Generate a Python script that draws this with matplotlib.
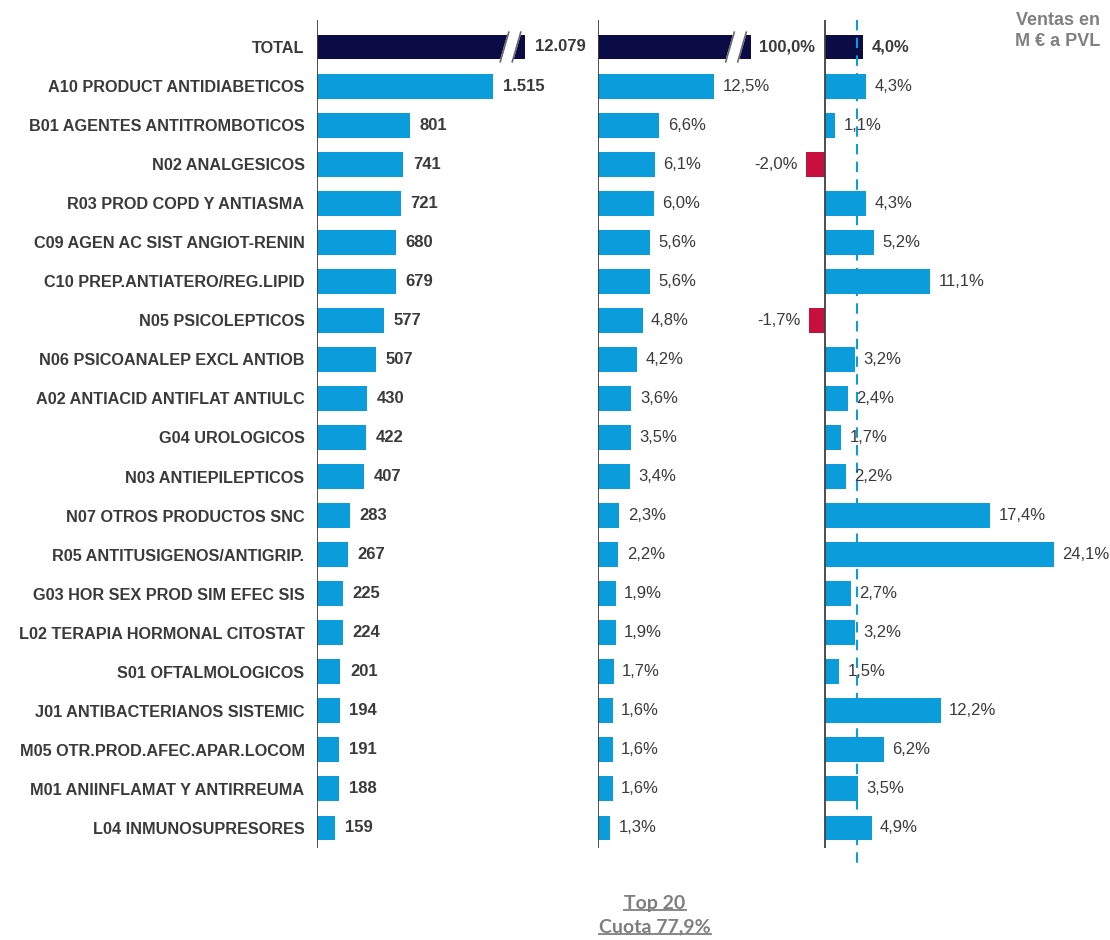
import numpy as np
import matplotlib.pyplot as plt
from matplotlib.lines import Line2D

plt.rcParams['font.family'] = ['Liberation Sans', 'DejaVu Sans']

# Data
categorias = ["TOTAL", "A10 PRODUCT ANTIDIABETICOS", "B01 AGENTES ANTITROMBOTICOS",
              "N02 ANALGESICOS", "R03 PROD COPD Y ANTIASMA", "C09 AGEN AC SIST ANGIOT-RENIN",
              "C10 PREP.ANTIATERO/REG.LIPID", "N05 PSICOLEPTICOS", "N06 PSICOANALEP EXCL ANTIOB",
              "A02 ANTIACID ANTIFLAT ANTIULC", "G04 UROLOGICOS", "N03 ANTIEPILEPTICOS",
              "N07 OTROS PRODUCTOS SNC", "R05 ANTITUSIGENOS/ANTIGRIP.", "G03 HOR SEX PROD SIM EFEC SIS",
              "L02 TERAPIA HORMONAL CITOSTAT", "S01 OFTALMOLOGICOS", "J01 ANTIBACTERIANOS SISTEMIC",
              "M05 OTR.PROD.AFEC.APAR.LOCOM", "M01 ANIINFLAMAT Y ANTIRREUMA", "L04 INMUNOSUPRESORES"]
ventas = [12079, 1515, 801, 741, 721, 680, 679, 577, 507, 430, 422, 407,
          283, 267, 225, 224, 201, 194, 191, 188, 159]
ventas_txt = ["12.079", "1.515", "801", "741", "721", "680", "679", "577", "507", "430", "422", "407",
              "283", "267", "225", "224", "201", "194", "191", "188", "159"]
cuota = [100.0, 12.5, 6.6, 6.1, 6.0, 5.6, 5.6, 4.8, 4.2, 3.6, 3.5, 3.4,
         2.3, 2.2, 1.9, 1.9, 1.7, 1.6, 1.6, 1.6, 1.3]
crecimiento = [4.0, 4.3, 1.1, -2.0, 4.3, 5.2, 11.1, -1.7, 3.2, 2.4, 1.7, 2.2,
               17.4, 24.1, 2.7, 3.2, 1.5, 12.2, 6.2, 3.5, 4.9]
crec_mercado = 3.4

NAVY = "#0B0B45"
BLUE = "#0B9DDB"
RED = "#C8103E"
TXT = "#3A3A3A"
FS = 12

def fmt_pct(v):
    return f"{v:.1f}%".replace(".", ",")

fig = plt.figure(figsize=(11.1, 9.4), dpi=100)
W, H = 1110, 940
bottom = 1 - 848 / H
height = (848 - 20) / H
ylim = ((848 - 47) / 39.05, (20 - 47) / 39.05)

ax1 = fig.add_axes([317 / W, bottom, 270 / W, height])
ax2 = fig.add_axes([598 / W, bottom, 200 / W, height])
ax3 = fig.add_axes([740 / W, bottom, 365 / W, height])

y = np.arange(len(categorias))
bh = 0.64


def draw_break(ax, xe, ppu):
    # slanted white gap near the end of a truncated bar (ppu = pixels per unit)
    xa = xe - 25 / ppu
    xb = xe - 13 / ppu
    dx = 9 / ppu
    yt, yb = -0.40, 0.40
    ax.fill([xa, xb, xb + dx, xa + dx], [yb, yb, yt, yt], color="white", zorder=3)
    for xx in (xa, xb):
        ax.plot([xx, xx + dx], [yb, yt], color="#6A6A6A", lw=1.2, zorder=4,
                solid_capstyle="butt")


for ax in (ax1, ax2, ax3):
    ax.set_ylim(*ylim)
    ax.patch.set_visible(False)
    for s in ax.spines.values():
        s.set_visible(False)
    ax.set_xticks([])
    ax.set_yticks([])
    ax.axvline(0, color="#404040", lw=1.3, zorder=5)

# Panel 1: ventas
ppu1 = 0.1162
cap1 = 1790
x1 = [min(v, cap1) for v in ventas]
ax1.set_xlim(0, 270 / ppu1)
ax1.barh(y, x1, height=bh, color=[NAVY] + [BLUE] * (len(y) - 1), zorder=2)
draw_break(ax1, cap1, ppu1)
for i, (v, t) in enumerate(zip(x1, ventas_txt)):
    ax1.annotate(t, (v, i), xytext=(7, 0), textcoords="offset points", va="center",
                 ha="left", fontsize=FS, fontweight="bold", color=TXT)
ax1.set_yticks(y)
ax1.set_yticklabels(categorias, fontsize=11.7, fontweight="bold", color=TXT)
ax1.tick_params(axis="y", length=0, pad=9)

# Panel 2: cuota
ppu2 = 9.3
cap2 = 16.4
x2 = [min(v, cap2) for v in cuota]
ax2.set_xlim(0, 200 / ppu2)
ax2.barh(y, x2, height=bh, color=[NAVY] + [BLUE] * (len(y) - 1), zorder=2)
draw_break(ax2, cap2, ppu2)
for i, (v, c) in enumerate(zip(x2, cuota)):
    ax2.annotate(fmt_pct(c), (v, i), xytext=(6, 0), textcoords="offset points", va="center",
                 ha="left", fontsize=FS, fontweight="bold" if i == 0 else "normal", color=TXT)

# Panel 3: crecimiento
ppu3 = 9.5
ax3.set_xlim(-85 / ppu3, 280 / ppu3)
cols3 = [NAVY] + [BLUE if v >= 0 else RED for v in crecimiento[1:]]
ax3.barh(y, crecimiento, height=bh, color=cols3, zorder=2)
ax3.plot([crec_mercado, crec_mercado], [ylim[1], (865 - 47) / 39.05], color=BLUE,
         ls=(0, (5, 3.5)), lw=1.5, zorder=3, clip_on=False)
for i, v in enumerate(crecimiento):
    if v >= 0:
        ax3.annotate(fmt_pct(v), (v, i), xytext=(6, 0), textcoords="offset points",
                     va="center", ha="left", fontsize=FS,
                     fontweight="bold" if i == 0 else "normal", color=TXT, zorder=6)
    else:
        ax3.annotate(fmt_pct(v), (v, i), xytext=(-6, 0), textcoords="offset points",
                     va="center", ha="right", fontsize=FS, color=TXT, zorder=6)

# Header
fig.text(1100 / W, 1 - 31 / H, "Ventas en\nM € a PVL", ha="right", va="center",
         fontsize=13, fontweight="bold", color="#808080", linespacing=1.35)

# Footer with underline
foot = []
for txt, yy in (("Top 20", 903), ("Cuota 77,9%", 927)):
    foot.append(fig.text(655 / W, 1 - yy / H, txt, ha="center", va="center",
                         fontsize=14, fontweight="bold", color="#7F7F7F",
                         family=["Lato", "DejaVu Sans"]))
fig.canvas.draw()
r = fig.canvas.get_renderer()
for t in foot:
    bb = t.get_window_extent(r).transformed(fig.transFigure.inverted())
    fig.add_artist(Line2D([bb.x0, bb.x1], [bb.y0 + 0.002, bb.y0 + 0.002],
                          transform=fig.transFigure, color="#7F7F7F", lw=1.3))

fig.savefig("out.png", dpi=100)
